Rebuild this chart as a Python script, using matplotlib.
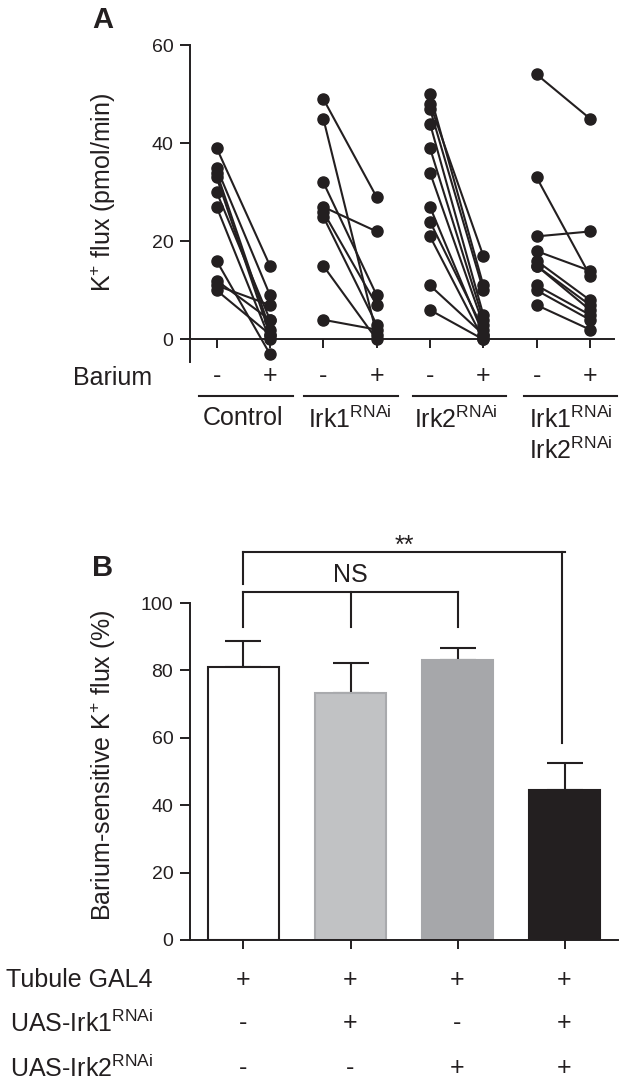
import matplotlib
matplotlib.use('Agg')
import matplotlib.pyplot as plt
from matplotlib.transforms import blended_transform_factory
from matplotlib.lines import Line2D
import numpy as np

plt.rcParams['font.family'] = ['Liberation Sans', 'DejaVu Sans']
plt.rcParams['mathtext.fontset'] = 'custom'
plt.rcParams['mathtext.rm'] = 'Liberation Sans'
plt.rcParams['mathtext.it'] = 'Liberation Sans:italic'
plt.rcParams['mathtext.bf'] = 'Liberation Sans:bold'

INK = '#231f20'

# ---------------- Panel A data ----------------
group_labels_a = ['Control', r'Irk1$^{\mathrm{RNAi}}$', r'Irk2$^{\mathrm{RNAi}}$',
                  r'Irk1$^{\mathrm{RNAi}}$' + '\n' + r'Irk2$^{\mathrm{RNAi}}$']
barium_signs = ['-', '+']
control_minus = [39, 35, 34, 33, 30, 27, 16, 12, 11, 10]
control_plus = [15, 9, 2, 1, 4, 0, -3, 4, 7, 1]
irk1_minus = [49, 45, 32, 27, 26, 25, 15, 4]
irk1_plus = [29, 1, 9, 22, 7, 3, 0, 2]
irk2_minus = [50, 48, 47, 44, 39, 34, 27, 24, 21, 11, 6]
irk2_plus = [11, 17, 10, 5, 4, 3, 1, 2, 0, 1, 0]
irk12_minus = [54, 33, 21, 18, 16, 15, 15, 11, 10, 7]
irk12_plus = [45, 13, 22, 14, 8, 7, 6, 5, 4, 2]
pairs_a = [(control_minus, control_plus), (irk1_minus, irk1_plus),
           (irk2_minus, irk2_plus), (irk12_minus, irk12_plus)]
yticks_a = [0, 20, 40, 60]

# ---------------- Panel B data ----------------
genotypes = ['Control', 'Irk1', 'Irk2', 'Irk1+Irk2']
means_b = [81.0, 73.3, 83.0, 44.5]
sem_b = [7.7, 8.9, 3.6, 8.0]
bar_colors = ['#ffffff', '#c1c2c4', '#a6a7aa', '#231f20']
bar_edges = ['#231f20', '#a9aaad', '#a6a7aa', '#231f20']
yticks_b = [0, 20, 40, 60, 80, 100]
row_labels_b = ['Tubule GAL4', r'UAS-Irk1$^{\mathrm{RNAi}}$', r'UAS-Irk2$^{\mathrm{RNAi}}$']
row_tubule = ['+', '+', '+', '+']
row_irk1 = ['-', '+', '-', '+']
row_irk2 = ['-', '-', '+', '+']

W, H = 619, 1091
fig = plt.figure(figsize=(W / 100, H / 100), dpi=100)


def fy(px):
    return 1 - px / H


def fx(px):
    return px / W


def style_axes(ax):
    for s in ['top', 'right']:
        ax.spines[s].set_visible(False)
    for s in ['left', 'bottom']:
        ax.spines[s].set_linewidth(1.4)
        ax.spines[s].set_color(INK)
    ax.tick_params(axis='y', direction='out', length=7, width=1.4, color=INK,
                   labelsize=14, labelcolor=INK, pad=5)
    ax.tick_params(axis='x', direction='out', length=6.5, width=1.4, color=INK,
                   labelbottom=False)


# ---------------- Panel A ----------------
axA = fig.add_axes([fx(190), fy(362), fx(614 - 190), (362 - 45) / H])
axA.set_xlim(-0.5, 7.45)
axA.set_ylim(-4.6, 60)
style_axes(axA)
axA.spines['bottom'].set_position(('data', 0))
axA.set_yticks(yticks_a)
axA.set_xticks(np.arange(8))

for g, (mn, pl) in enumerate(pairs_a):
    x0, x1 = 2 * g, 2 * g + 1
    for m, p in zip(mn, pl):
        axA.plot([x0, x1], [m, p], '-', color=INK, lw=1.5, zorder=2, clip_on=False)
for g, (mn, pl) in enumerate(pairs_a):
    x0, x1 = 2 * g, 2 * g + 1
    axA.plot([x0] * len(mn), mn, 'o', color=INK, ms=8, zorder=3, clip_on=False)
    axA.plot([x1] * len(pl), pl, 'o', color=INK, ms=8, zorder=3, clip_on=False)

transA = blended_transform_factory(axA.transData, fig.transFigure)
fig.text(fx(152), fy(378), 'Barium', ha='right', va='center', fontsize=18, color=INK)
for g in range(4):
    for k, s in enumerate(barium_signs):
        axA.text(2 * g + k, fy(376), s, transform=transA, ha='center', va='center',
                 fontsize=18, color=INK)

underline_px = [(199, 293), (304, 398), (413, 506), (524, 617)]
label_center_px = [243, 350, 456, 571]
for (a, b), c, lab in zip(underline_px, label_center_px, group_labels_a):
    fig.add_artist(Line2D([fx(a), fx(b)], [fy(396), fy(396)], color=INK, lw=1.5,
                          transform=fig.transFigure))
    fig.text(fx(c), fy(406), lab, ha='center', va='top', fontsize=18, color=INK,
             linespacing=1.15)

fig.text(fx(103), fy(192), r'K$^{+}$ flux (pmol/min)', rotation=90, ha='center',
         va='center', fontsize=18, color=INK)
fig.text(fx(103), fy(20), 'A', ha='center', va='center', fontsize=21,
         fontweight='bold', color=INK)

# ---------------- Panel B ----------------
axB = fig.add_axes([fx(190), fy(940), fx(618 - 190), (940 - 603) / H])
axB.set_xlim(-0.5, 3.5)
axB.set_ylim(0, 100)
style_axes(axB)
axB.set_yticks(yticks_b)
xb = np.arange(len(genotypes))
axB.set_xticks(xb)
axB.bar(xb, means_b, width=0.67, color=bar_colors, edgecolor=bar_edges,
        linewidth=1.5, zorder=2)
axB.errorbar(xb, means_b, yerr=[np.zeros(len(sem_b)), sem_b], fmt='none',
             ecolor=INK, elinewidth=1.5, capsize=13, capthick=1.5, zorder=1)

# significance brackets
bk = dict(color=INK, lw=1.5, clip_on=False)
axB.plot([0, 2], [103.3, 103.3], **bk)
for xx in [0, 1, 2]:
    axB.plot([xx, xx], [92.9, 103.3], **bk)
axB.text(1, 108.3, 'NS', ha='center', va='center', fontsize=18, color=INK)
axB.plot([0, 3], [115.1, 115.1], **bk)
axB.plot([0, 0], [105.6, 115.1], **bk)
axB.plot([2.98, 2.98], [58.5, 115.1], **bk)
axB.text(1.5, 117.0, '**', ha='center', va='center', fontsize=18, color=INK)

fig.text(fx(103), fy(765), r'Barium-sensitive K$^{+}$ flux (%)', rotation=90,
         ha='center', va='center', fontsize=18, color=INK)
fig.text(fx(103), fy(568), 'B', ha='center', va='center', fontsize=21,
         fontweight='bold', color=INK)

transB = blended_transform_factory(axB.transData, fig.transFigure)
row_y_px = [980, 1023, 1068]
for lab, vals, ypx in zip(row_labels_b, [row_tubule, row_irk1, row_irk2], row_y_px):
    fig.text(fx(153), fy(ypx), lab, ha='right', va='center', fontsize=18, color=INK)
    for xx, v in zip(xb, vals):
        axB.text(xx, fy(ypx), v, transform=transB, ha='center', va='center',
                 fontsize=18, color=INK)

fig.savefig('out.png', dpi=100, facecolor='white')
